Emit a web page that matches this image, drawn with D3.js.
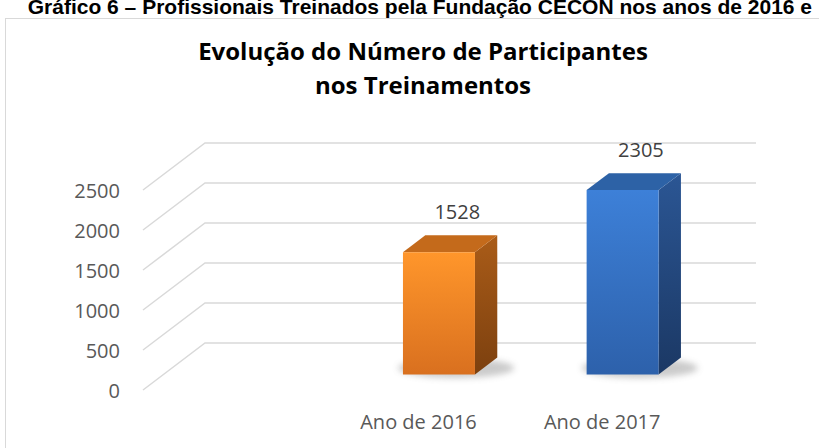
<html>
  <head>
    <meta charset="utf-8">
    <title>Evolução do Número de Participantes</title>
    <script src="https://d3js.org/d3.v7.min.js"></script>
    <style>
      body { margin: 0; background: #fff; overflow: hidden; }
      svg text { font-family: 'Open Sans', sans-serif; }
    </style>
  </head>
  <body>
    <script>
      // dados do gráfico
      var categorias = ["", "Ano de 2016", "Ano de 2017"];
      var valores = [null, 1528, 2305];
      var ticks = [0, 500, 1000, 1500, 2000, 2500];
      var titulo = ["Evolução do Número de Participantes", "nos Treinamentos"];
      var legenda = "Gráfico 6 – Profissionais Treinados pela Fundação CECON nos anos de 2016 e";

      var width = 819, height = 448;
      var DX = 62, DY = -47;      // deslocamento da profundidade (frente -> fundo)
      var tf = 0.33, tb = 0.69;   // profundidade das faces da barra
      var barW = 72;

      var svg = d3.select("body").append("svg")
        .attr("width", width)
        .attr("height", height);

      var defs = svg.append("defs");

      function grad(id, c1, c2) {
        var g = defs.append("linearGradient").attr("id", id)
          .attr("x1", "0%").attr("y1", "0%").attr("x2", "0%").attr("y2", "100%");
        g.append("stop").attr("offset", "0%").attr("stop-color", c1);
        g.append("stop").attr("offset", "100%").attr("stop-color", c2);
      }
      grad("frenteLaranja", "#ff962b", "#d9701f");
      grad("ladoLaranja", "#aa5c18", "#7c400f");
      grad("frenteAzul", "#3d80d8", "#2d61ab");
      grad("ladoAzul", "#2b5694", "#1b3864");
      var cores = [null,
        { frente: "url(#frenteLaranja)", lado: "url(#ladoLaranja)", topo: "#c46a1b" },
        { frente: "url(#frenteAzul)", lado: "url(#ladoAzul)", topo: "#2d62a6" }];

      defs.append("filter").attr("id", "sombra")
        .attr("x", "-50%").attr("y", "-50%").attr("width", "200%").attr("height", "200%")
        .append("feGaussianBlur").attr("stdDeviation", 3);

      // legenda (cortada no topo, como na imagem)
      svg.append("text")
        .attr("x", 812).attr("y", 14)
        .attr("text-anchor", "end")
        .style("font-family", "'Liberation Sans', Arial, sans-serif")
        .attr("font-weight", "bold")
        .attr("font-size", 21)
        .attr("fill", "#000")
        .text(legenda);

      // moldura do gráfico
      svg.append("rect")
        .attr("x", 5.5).attr("y", 18.5)
        .attr("width", 850).attr("height", 440)
        .attr("fill", "#fff")
        .attr("stroke", "#d9d9d9");

      // título
      svg.append("text")
        .attr("text-anchor", "middle")
        .attr("font-weight", "bold")
        .attr("font-size", 24)
        .attr("fill", "#000")
        .selectAll("tspan")
        .data(titulo)
        .enter()
        .append("tspan")
        .attr("x", 423)
        .attr("y", function(d, i) { return 60 + i * 34; })
        .text(function(d) { return d; });

      var x = d3.scaleBand().domain(categorias).range([143, 694]);
      var y = d3.scaleLinear().domain([0, 2500]).range([390, 190]);

      function proj(px, v, t) {
        return [px + DX * t, y(v) + DY * t];
      }

      // linhas de grade (parede lateral + fundo)
      var grade = svg.append("g");
      grade.selectAll("polyline")
        .data(ticks)
        .enter()
        .append("polyline")
        .attr("fill", "none")
        .attr("stroke", "#d9d9d9")
        .attr("stroke-width", 1.5)
        .attr("points", function(v) {
          return [proj(143, v, 0), proj(143, v, 1), proj(694, v, 1)].join(" ");
        });

      // rótulos do eixo y
      svg.append("g")
        .selectAll("text")
        .data(ticks)
        .enter()
        .append("text")
        .attr("x", 120)
        .attr("y", function(v) { return y(v) + 8; })
        .attr("text-anchor", "end")
        .attr("font-size", 20)
        .attr("fill", "#595959")
        .text(function(v) { return v; });

      // barras 3D
      var barras = svg.append("g");
      categorias.forEach(function(c, i) {
        var v = valores[i];
        if (v == null) return;
        var x0 = x(c) + (x.bandwidth() - barW) / 2;
        var x1 = x0 + barW;
        var g = barras.append("g");

        var s0 = proj(x0, 0, (tf + tb) / 2), s1 = proj(x1, 0, (tf + tb) / 2);
        g.append("ellipse")
          .attr("cx", (s0[0] + s1[0]) / 2 + 6)
          .attr("cy", s0[1] + 2)
          .attr("rx", barW / 2 + 22)
          .attr("ry", 10)
          .attr("fill", "#8c8c8c")
          .attr("opacity", 0.45)
          .attr("filter", "url(#sombra)");

        g.append("polygon")
          .attr("fill", cores[i].lado)
          .attr("points", [proj(x1, 0, tf), proj(x1, 0, tb), proj(x1, v, tb), proj(x1, v, tf)].join(" "));
        g.append("polygon")
          .attr("fill", cores[i].topo)
          .attr("points", [proj(x0, v, tf), proj(x1, v, tf), proj(x1, v, tb), proj(x0, v, tb)].join(" "));
        g.append("polygon")
          .attr("fill", cores[i].frente)
          .attr("points", [proj(x0, 0, tf), proj(x1, 0, tf), proj(x1, v, tf), proj(x0, v, tf)].join(" "));

        var p = proj(x0 + barW / 2, v, tb);
        g.append("text")
          .attr("x", p[0] - 4)
          .attr("y", p[1] - 16)
          .attr("text-anchor", "middle")
          .attr("font-size", 20)
          .attr("fill", "#404040")
          .text(v);
      });

      // rótulos das categorias
      svg.append("g")
        .selectAll("text")
        .data(categorias)
        .enter()
        .append("text")
        .attr("x", function(c) { return x(c) + x.bandwidth() / 2; })
        .attr("y", 429)
        .attr("text-anchor", "middle")
        .attr("font-size", 20)
        .attr("fill", "#595959")
        .text(function(c) { return c; });
    </script>
  </body>
</html>
